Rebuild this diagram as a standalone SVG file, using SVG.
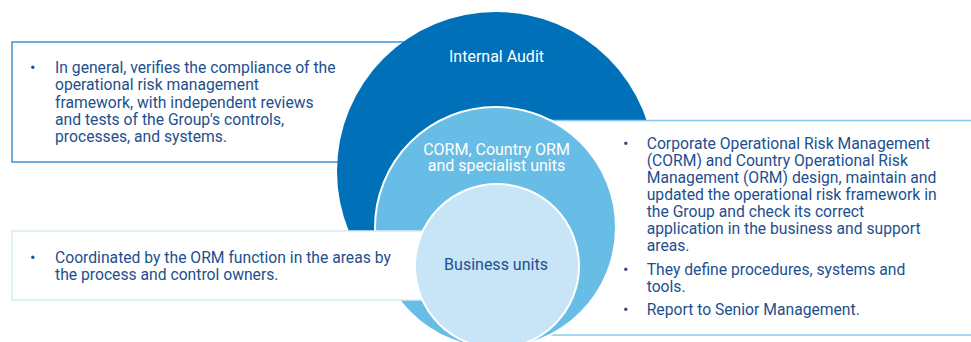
<svg xmlns="http://www.w3.org/2000/svg" width="971" height="342" viewBox="0 0 971 342">
  <style>
    .body { font-family: Roboto, "Liberation Sans", sans-serif; font-size: 15.7px; fill: #1d4f8e; }
    .bullet { font-family: Roboto, "Liberation Sans", sans-serif; font-size: 16px; fill: #1d4f8e; }
    .label { font-family: Roboto, "Liberation Sans", sans-serif; font-size: 16px; text-anchor: middle; }
    .light { fill: #ffffff; }
    .dark { fill: #1d4f8e; }
    .box { fill: #ffffff; stroke-width: 1.5; }
  </style>

  <!-- Box: internal audit description (sits under the outer ring) -->
  <g id="box-audit">
    <rect class="box" x="12" y="42" width="410" height="120" stroke="#3f93d1"/>
    <text class="bullet" x="30" y="72.7">•</text>
    <text class="body" x="55" y="72.7">In general, verifies the compliance of the<tspan x="55" dy="17.4">operational risk management</tspan><tspan x="55" dy="17.4">framework, with independent reviews</tspan><tspan x="55" dy="17.4">and tests of the Group's controls,</tspan><tspan x="55" dy="17.4">processes, and systems.</tspan></text>
  </g>

  <!-- Outer ring -->
  <g id="internal-audit">
    <circle cx="496" cy="171" r="159" fill="#0070b8"/>
    <text class="label light" x="496.5" y="61.7">Internal Audit</text>
  </g>

  <!-- Box: CORM / ORM description (over outer ring, under middle ring) -->
  <g id="box-corm">
    <rect class="box" x="545" y="120.5" width="440" height="214.5" stroke="#8ac8ec"/>
    <text class="bullet" x="623" y="149.3">•</text>
    <text class="body" x="646.7" y="149.3">Corporate Operational Risk Management<tspan x="646.7" dy="16.9">(CORM) and Country Operational Risk</tspan><tspan x="646.7" dy="16.9">Management (ORM) design, maintain and</tspan><tspan x="646.7" dy="16.9">updated the operational risk framework in</tspan><tspan x="646.7" dy="16.9">the Group and check its correct</tspan><tspan x="646.7" dy="16.9">application in the business and support</tspan><tspan x="646.7" dy="16.9">areas.</tspan></text>
    <text class="bullet" x="623" y="275">•</text>
    <text class="body" x="646.7" y="275">They define procedures, systems and<tspan x="646.7" dy="16.7">tools.</tspan></text>
    <text class="bullet" x="623" y="315">•</text>
    <text class="body" x="646.7" y="315">Report to Senior Management.</text>
  </g>

  <!-- Middle ring -->
  <g id="corm-units">
    <circle cx="495.5" cy="227.5" r="120.5" fill="#68bde6" stroke="#ffffff" stroke-width="2"/>
    <text class="label light" x="496.5" y="155">CORM, Country ORM<tspan x="496.5" dy="15.7">and specialist units</tspan></text>
  </g>

  <!-- Box: business units description (over middle ring, under inner disc) -->
  <g id="box-business">
    <rect class="box" x="12" y="231" width="420" height="69" stroke="#d9ecf8"/>
    <text class="bullet" x="30" y="262.7">•</text>
    <text class="body" x="55" y="262.7">Coordinated by the ORM function in the areas by<tspan x="55" dy="17.3">the process and control owners.</tspan></text>
  </g>

  <!-- Inner disc -->
  <g id="business-units">
    <circle cx="497" cy="266" r="82" fill="#c7e5f6" stroke="#ffffff" stroke-width="2"/>
    <text class="label dark" x="496" y="270">Business units</text>
  </g>
</svg>
